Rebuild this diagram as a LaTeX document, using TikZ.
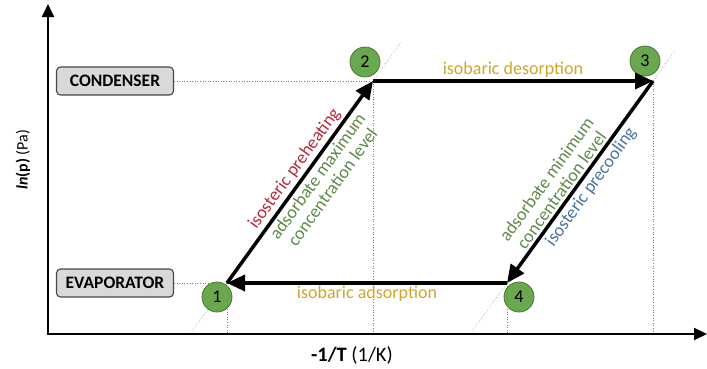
\documentclass[tikz,border=0pt]{standalone}
\usepackage{fontspec}
\setmainfont{Carlito}
\usetikzlibrary{arrows.meta,calc}
\definecolor{stategreen}{HTML}{6AA84F}
\definecolor{heatred}{HTML}{B8293D}
\definecolor{concgreen}{HTML}{5E8A4A}
\definecolor{coolblue}{HTML}{4A74A8}
\definecolor{bargold}{HTML}{CFA52B}
\begin{document}
\begin{tikzpicture}[x=1pt,y=-1pt,
        state/.style={circle,fill=stategreen,draw=stategreen!70!black,line width=0.8pt,
            minimum size=30pt,inner sep=0pt,font=\fontsize{18}{18}\selectfont},
        device/.style={rounded corners=4pt,fill=gray!30,draw=gray!55!black,line width=1.1pt,
            minimum width=117pt,minimum height=28pt,font=\bfseries\fontsize{17.5}{18}\selectfont},
        guide/.style={dotted,gray,line width=0.6pt},
        process/.style={line width=3.5pt,-{Triangle[length=18pt,width=16pt]}},
        axis/.style={line width=2pt,-{Triangle[length=13pt,width=12pt]}},
        lbl/.style={font=\fontsize{18}{18.5}\selectfont,align=center,inner sep=1pt}]
    \useasboundingbox (0,0) rectangle (707,368);
    % corners of the cycle
    \coordinate (p1) at (227,283);
    \coordinate (p2) at (373,81);
    \coordinate (p3) at (653,81);
    \coordinate (p4) at (507,283);
    \coordinate (o) at (48,334);
    % states
    \node[state] (n1) at (217,297) {1};
    \node[state] (n2) at (365,62) {2};
    \node[state] (n3) at (645,61) {3};
    \node[state] (n4) at (519,297) {4};
    \node[device] (cond) at (115,81) {CONDENSER};
    \node[device] (evap) at (115,283) {EVAPORATOR};
    % guide lines
    \draw[guide] (cond.east) -- (p2);
    \draw[guide] (evap.east) -- (p1);
    \foreach \p in {p1,p2,p3,p4}
        \draw[guide] (\p) -- (\p |- o);
    \draw[guide] ($(p1)!-0.25!(p2)$) -- ($(p1)!1.19!(p2)$);
    \draw[guide] ($(p4)!-0.25!(p3)$) -- ($(p4)!1.15!(p3)$);
    % axes
    \draw[axis] (o) -- (48,4);
    \draw[axis] (47,334) -- (707,334);
    \node[rotate=90,font=\fontsize{16}{16}\selectfont] (ylab) at (23,160)
        {\textbf{\textit{ln}(p)} (Pa)};
    \node[font=\fontsize{20.5}{21}\selectfont] (xlab) at (352,355)
        {\textbf{-1/T} (1/K)};
    % cycle
    \draw[process] (p1) -- (p2);
    \draw[process] (p2) -- (p3);
    \draw[process] (p3) -- (p4);
    \draw[process] (p4) -- (p1);
    \path (p1) -- (p2)
        node[lbl,pos=0.53,sloped,above=3pt,text=heatred] {isosteric preheating}
        node[lbl,pos=0.56,sloped,below=3pt,text=concgreen] {adsorbate maximum\\concentration level};
    \path (p4) -- (p3)
        node[lbl,pos=0.43,sloped,above=3pt,text=concgreen] {adsorbate minimum\\concentration level}
        node[lbl,pos=0.51,sloped,below=3pt,text=coolblue] {isosteric precooling};
    \path (p2) -- (p3) node[lbl,midway,above=2pt,text=bargold] {isobaric desorption};
    \path (p4) -- (p1) node[lbl,midway,below=2pt,text=bargold] {isobaric adsorption};
\end{tikzpicture}
\end{document}
